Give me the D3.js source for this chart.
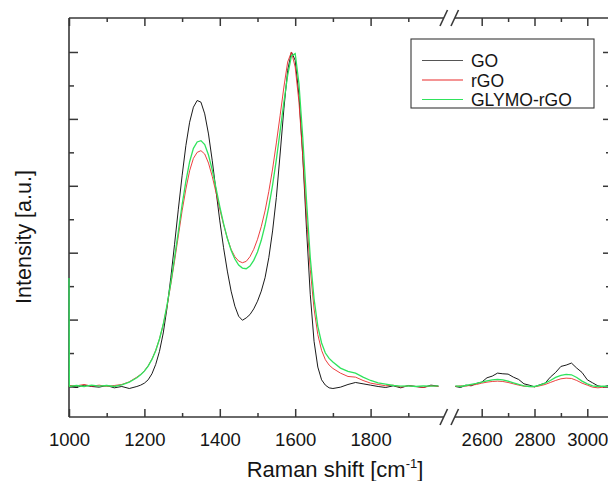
<!DOCTYPE html>
<html><head><meta charset="utf-8">
<script src="https://cdn.jsdelivr.net/npm/d3@7"></script>
<style>
body{margin:0;background:#fff}
svg{display:block}
text{font-family:"Liberation Sans",Arial,sans-serif;fill:#151515}
</style>
</head><body><svg id="c" width="608" height="481"></svg>
<script>
// ---- Data (normalized Raman intensity) ----
const shiftLeft = [1000,1001,1020,1040,1060,1080,1100,1120,1140,1160,1180,
  1190,1200,1210,1220,1230,1240,1250,1260,1270,1280,1290,1300,1310,1320,1330,1340,1350,1360,1370,1380,1390,
  1400,1410,1420,1430,1440,1450,1460,1470,1480,1490,1500,1510,1520,1530,1540,1550,1560,1570,1580,1590,
  1600,1610,1620,1630,1640,1650,1660,1670,1680,1690,1700,
  1720,1740,1760,1780,1800,1820,1840,1860,1880,1900,1920,1940,1960,1980];
const goLeft = [0.000,0.002,-0.003,0.004,0.000,-0.002,0.003,-0.004,0.000,-0.006,0.000,
  0.004,0.010,0.020,0.038,0.066,0.105,0.160,0.235,0.325,0.425,0.530,0.630,0.720,0.790,0.835,0.855,0.850,0.815,0.755,0.675,0.585,
  0.495,0.415,0.345,0.285,0.240,0.210,0.198,0.205,0.215,0.232,0.255,0.285,0.325,0.385,0.465,0.565,0.695,0.830,0.945,1.000,
  0.975,0.870,0.690,0.470,0.275,0.135,0.058,0.020,0.004,-0.004,-0.006,
  -0.002,0.006,0.012,0.008,0.004,0.000,-0.003,0.002,-0.004,0.003,0.000,-0.003,0.004,0.001];
const rgoLeft = [0.000,0.003,0.002,0.006,0.001,0.004,0.000,0.003,0.006,0.014,0.028,
  0.036,0.047,0.062,0.082,0.108,0.142,0.185,0.240,0.305,0.375,0.450,0.525,0.590,0.645,0.682,0.700,0.705,0.695,0.668,0.628,0.580,
  0.530,0.484,0.443,0.410,0.388,0.375,0.370,0.374,0.388,0.410,0.440,0.478,0.525,0.583,0.650,0.728,0.810,0.895,0.970,1.000,
  0.955,0.850,0.690,0.510,0.350,0.232,0.155,0.108,0.080,0.064,0.054,
  0.040,0.030,0.028,0.018,0.010,0.006,0.002,0.004,-0.002,0.002,0.000,-0.003,0.002,0.000];
const glymoLeft = [0.324,0.000,0.003,0.000,0.004,0.001,0.003,0.000,0.005,0.013,0.026,
  0.035,0.046,0.061,0.081,0.107,0.142,0.186,0.243,0.310,0.385,0.463,0.543,0.613,0.672,0.712,0.731,0.735,0.723,0.692,0.647,0.593,
  0.538,0.487,0.443,0.407,0.381,0.363,0.354,0.352,0.360,0.377,0.402,0.437,0.482,0.537,0.602,0.678,0.763,0.850,0.930,0.988,
  0.995,0.905,0.745,0.555,0.385,0.262,0.180,0.130,0.100,0.084,0.073,
  0.055,0.045,0.040,0.028,0.018,0.011,0.007,0.003,0.001,0.002,0.000,0.002,0.001,0.002];

const shiftRight = [2500,2520,2540,2560,2580,2600,2620,2640,2660,2680,2700,2720,2740,2760,2780,
  2800,2820,2840,2860,2880,2900,2920,2940,2960,2980,3000,3020,3040,3060,3080];
const goRight = [0.000,-0.003,0.004,0.002,0.009,0.013,0.026,0.031,0.040,0.038,0.037,0.028,0.021,0.008,0.004,
  -0.001,0.005,0.010,0.028,0.042,0.060,0.064,0.070,0.055,0.042,0.020,0.011,0.002,-0.001,0.003];
const rgoRight = [0.000,0.002,0.001,0.004,0.006,0.010,0.013,0.015,0.016,0.015,0.012,0.008,0.004,0.001,0.000,
  -0.001,0.002,0.006,0.012,0.018,0.023,0.025,0.024,0.018,0.010,0.004,-0.002,-0.004,-0.002,0.000];
const glymoRight = [0.002,0.000,0.003,0.006,0.009,0.013,0.017,0.020,0.021,0.020,0.016,0.011,0.006,0.002,0.000,
  0.000,0.004,0.010,0.018,0.027,0.033,0.036,0.035,0.027,0.016,0.008,0.002,0.000,0.001,0.000];

const seriesNames = ["GO","rGO","GLYMO-rGO"];
const seriesColors = ["#000000","#ea2a2a","#2fe35c"];
const seriesWidths = [0.9,0.9,1.3];
const majorLeftTicks = [1000,1200,1400,1600,1800];
const minorLeftTicks = [1100,1300,1500,1700,1900];
const majorRightTicks = [2600,2800,3000];
const minorRightTicks = [2700,2900];
const yMajorTicks = [0,0.2,0.4,0.6,0.8,1.0];
const yMinorTicks = [0.1,0.3,0.5,0.7,0.9];

// ---- Layout ----
const L = 69, T = 18, B = 417, R = 610, breakL = 446, breakR = 452.66;
const svg = d3.select("#c");
const xL = d3.scaleLinear().domain([1000,2000]).range([L, breakL]);
const xR = d3.scaleLinear().domain([2490,3086]).range([breakR, R]);
const y = d3.scaleLinear().domain([-0.0912,1.1016]).range([B, T]);
const axisColor = "#383838";

const defs = svg.append("defs");
defs.append("clipPath").attr("id","clipL").append("rect").attr("x",L-1.5).attr("y",T).attr("width",breakL-L+1.5).attr("height",B-T);
defs.append("clipPath").attr("id","clipR").append("rect").attr("x",breakR).attr("y",T).attr("width",R-breakR).attr("height",B-T);

// ---- Axes ----
function styleAxis(g){
  g.select(".domain").remove();
  g.selectAll(".tick line").attr("stroke",axisColor).attr("stroke-width",1.5);
  g.selectAll(".tick text").attr("font-size","18.5px").attr("fill","#151515")
    .attr("font-family","'Liberation Sans',Arial,sans-serif");
}
// bottom
svg.append("g").attr("transform",`translate(0,${B})`)
  .call(d3.axisBottom(xL).tickValues(majorLeftTicks).tickSize(-8).tickPadding(15.5).tickFormat(d3.format("d"))).call(styleAxis);
svg.append("g").attr("transform",`translate(0,${B})`)
  .call(d3.axisBottom(xL).tickValues(minorLeftTicks).tickSize(-4).tickFormat("")).call(styleAxis);
svg.append("g").attr("transform",`translate(0,${B})`)
  .call(d3.axisBottom(xR).tickValues(majorRightTicks).tickSize(-8).tickPadding(15.5).tickFormat(d3.format("d"))).call(styleAxis);
svg.append("g").attr("transform",`translate(0,${B})`)
  .call(d3.axisBottom(xR).tickValues(minorRightTicks).tickSize(-4).tickFormat("")).call(styleAxis);
// top
svg.append("g").attr("transform",`translate(0,${T})`)
  .call(d3.axisTop(xL).tickValues(majorLeftTicks).tickSize(-8).tickFormat("")).call(styleAxis);
svg.append("g").attr("transform",`translate(0,${T})`)
  .call(d3.axisTop(xL).tickValues(minorLeftTicks).tickSize(-4).tickFormat("")).call(styleAxis);
svg.append("g").attr("transform",`translate(0,${T})`)
  .call(d3.axisTop(xR).tickValues(majorRightTicks).tickSize(-8).tickFormat("")).call(styleAxis);
svg.append("g").attr("transform",`translate(0,${T})`)
  .call(d3.axisTop(xR).tickValues(minorRightTicks).tickSize(-4).tickFormat("")).call(styleAxis);
// left / right
svg.append("g").attr("transform",`translate(${L},0)`)
  .call(d3.axisLeft(y).tickValues(yMajorTicks).tickSize(-9).tickFormat("")).call(styleAxis);
svg.append("g").attr("transform",`translate(${L},0)`)
  .call(d3.axisLeft(y).tickValues(yMinorTicks).tickSize(-5).tickFormat("")).call(styleAxis);
svg.append("g").attr("transform",`translate(${R},0)`)
  .call(d3.axisRight(y).tickValues(yMajorTicks).tickSize(-7).tickFormat("")).call(styleAxis);
svg.append("g").attr("transform",`translate(${R},0)`)
  .call(d3.axisRight(y).tickValues(yMinorTicks).tickSize(-4).tickFormat("")).call(styleAxis);

// frame with breaks
const frame = svg.append("g").attr("stroke",axisColor).attr("stroke-width",1.6).attr("fill","none");
frame.append("line").attr("x1",L).attr("x2",L).attr("y1",T).attr("y2",B);
frame.append("line").attr("x1",R).attr("x2",R).attr("y1",T).attr("y2",B);
[T,B].forEach(yy=>{
  frame.append("line").attr("x1",L).attr("x2",444).attr("y1",yy).attr("y2",yy);
  frame.append("line").attr("x1",455).attr("x2",R).attr("y1",yy).attr("y2",yy);
  frame.append("line").attr("x1",440).attr("x2",447.5).attr("y1",yy+8).attr("y2",yy-8);
  frame.append("line").attr("x1",451).attr("x2",458.5).attr("y1",yy+8).attr("y2",yy-8);
});

// ---- Curves (drawn over the frame) ----
const leftSets = [goLeft, rgoLeft, glymoLeft];
const rightSets = [goRight, rgoRight, glymoRight];
const lineL = d3.line().x(d=>xL(d[0])).y(d=>y(d[1]));
const lineR = d3.line().x(d=>xR(d[0])).y(d=>y(d[1]));
leftSets.forEach((vals,i)=>{
  svg.append("path").attr("clip-path","url(#clipL)")
    .attr("d", lineL(shiftLeft.map((s,k)=>[s,vals[k]])))
    .attr("fill","none").attr("stroke",seriesColors[i]).attr("stroke-width",seriesWidths[i]);
});
rightSets.forEach((vals,i)=>{
  svg.append("path").attr("clip-path","url(#clipR)")
    .attr("d", lineR(shiftRight.map((s,k)=>[s,vals[k]])))
    .attr("fill","none").attr("stroke",seriesColors[i]).attr("stroke-width",seriesWidths[i]);
});

// ---- Titles ----
const xt = svg.append("text").attr("x",335).attr("y",477).attr("text-anchor","middle").attr("font-size","22px");
xt.append("tspan").text("Raman shift [cm");
xt.append("tspan").attr("dy",-9).attr("font-size","13px").text("-1");
xt.append("tspan").attr("dy",9).text("]");
svg.append("text").attr("transform","translate(31,237) rotate(-90)").attr("text-anchor","middle")
  .attr("font-size","21.5px").text("Intensity [a.u.]");

// ---- Legend ----
const lg = svg.append("g");
lg.append("rect").attr("x",411).attr("y",39).attr("width",183).attr("height",69)
  .attr("fill","#fff").attr("stroke",axisColor).attr("stroke-width",1.1);
const legendY = [60.5, 80, 99.5];
seriesNames.forEach((n,i)=>{
  lg.append("line").attr("x1",422).attr("x2",463).attr("y1",legendY[i]).attr("y2",legendY[i])
    .attr("stroke", i===0 ? "#555" : seriesColors[i]).attr("stroke-width",1.1);
  lg.append("text").attr("x",471).attr("y",legendY[i]+6.5).attr("font-size","17.5px").text(n);
});
</script>
</body></html>
